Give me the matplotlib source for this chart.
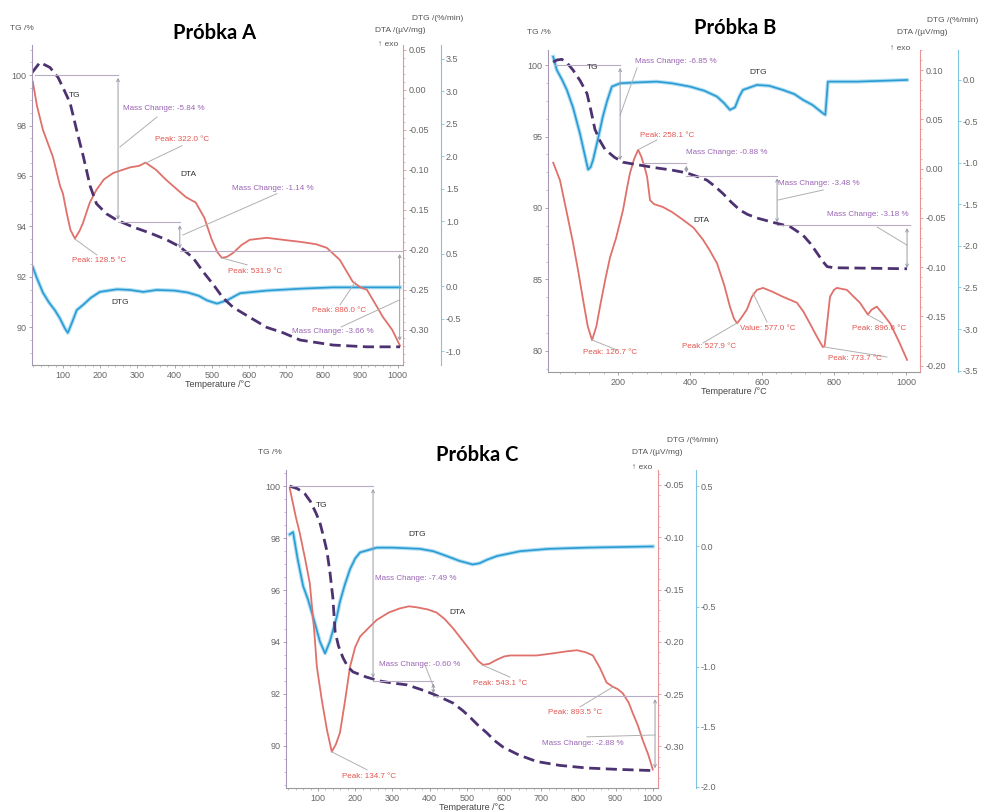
import matplotlib.pyplot as plt
from matplotlib.ticker import FormatStrFormatter, AutoMinorLocator

plt.rcParams['font.family'] = ['Liberation Sans', 'DejaVu Sans']
plt.rcParams['axes.unicode_minus'] = False

# ---------------- Próbka A ----------------
a_t_tg = [17, 38, 65, 87, 100, 119, 137, 155, 173, 190, 217, 245, 288, 334, 379, 414,
          450, 477, 505, 530, 557, 602, 648, 693, 737, 826, 917, 1006]
a_tg = [100.1, 100.5, 100.3, 99.9, 99.5, 98.9, 97.8, 96.75, 95.6, 94.9, 94.5, 94.25, 93.98,
        93.74, 93.47, 93.2, 92.75, 92.2, 91.68, 91.17, 90.8, 90.4, 90.0, 89.78, 89.5, 89.3,
        89.23, 89.23]
a_t_dta = [19, 30, 46, 73, 92, 100, 110, 120, 132, 145, 154, 172, 190, 210, 235, 280, 305,
           322, 350, 377, 430, 457, 480, 500, 515, 527, 540, 557, 580, 602, 648, 700, 737,
           780, 809, 844, 879, 900, 917, 940, 960, 985, 1006]
a_dta = [0.01, -0.02, -0.05, -0.084, -0.12, -0.13, -0.154, -0.175, -0.186, -0.176, -0.166,
         -0.141, -0.125, -0.112, -0.104, -0.097, -0.095, -0.091, -0.1, -0.1125, -0.134,
         -0.141, -0.16, -0.1875, -0.203, -0.21, -0.209, -0.204, -0.194, -0.1875, -0.185,
         -0.188, -0.19, -0.193, -0.1975, -0.2125, -0.24, -0.247, -0.25, -0.268, -0.284,
         -0.30, -0.32]
a_t_dtg = [19, 30, 46, 62, 78, 92, 105, 113, 125, 137, 154, 175, 199, 245, 280, 316, 352,
           400, 436, 465, 487, 514, 541, 576, 648, 740, 826, 1006]
a_dtg = [0.29, 0.12, -0.1, -0.25, -0.37, -0.5, -0.65, -0.72, -0.55, -0.37, -0.29, -0.18,
         -0.09, -0.05, -0.06, -0.09, -0.06, -0.07, -0.1, -0.15, -0.22, -0.27, -0.22, -0.11,
         -0.07, -0.04, -0.02, -0.02]
a_mass_change = [-5.84, -1.14, -3.66]
a_peaks = [128.5, 322.0, 531.9, 886.0]

# ---------------- Próbka B ----------------
b_t_tg = [20, 30, 44, 60, 75, 95, 114, 125, 136, 150, 164, 190, 214, 260, 308, 350, 392,
          420, 447, 470, 492, 515, 539, 560, 586, 630, 678, 714, 735, 753, 768, 781, 800,
          864, 1003]
b_tg = [100.2, 100.35, 100.4, 100.1, 99.65, 98.9, 98.0, 96.8, 95.5, 94.7, 94.1, 93.55,
        93.2, 93.0, 92.8, 92.65, 92.45, 92.2, 91.95, 91.5, 91.0, 90.4, 89.85, 89.55, 89.3,
        89.0, 88.7, 88.1, 87.5, 86.85, 86.3, 85.9, 85.82, 85.8, 85.75]
b_t_dta = [20, 39, 58, 75, 90, 103, 116, 128, 140, 150, 165, 178, 195, 214, 225, 233, 245,
           256, 265, 275, 281, 289, 300, 325, 350, 381, 410, 436, 455, 475, 495, 511, 522,
           531, 545, 558, 572, 586, 603, 630, 658, 697, 715, 733, 752, 769, 774, 780, 789,
           800, 808, 836, 855, 872, 894, 905, 919, 935, 956, 980, 1003]
b_dta = [0.006, -0.012, -0.045, -0.075, -0.105, -0.133, -0.16, -0.174, -0.16, -0.14,
         -0.112, -0.09, -0.07, -0.042, -0.02, -0.005, 0.01, 0.019, 0.012, 0.0, -0.0085,
         -0.032, -0.036, -0.039, -0.044, -0.052, -0.06, -0.072, -0.083, -0.096, -0.118,
         -0.14, -0.152, -0.157, -0.15, -0.143, -0.13, -0.123, -0.121, -0.125, -0.13,
         -0.136, -0.145, -0.157, -0.17, -0.181, -0.18, -0.16, -0.13, -0.123, -0.121,
         -0.123, -0.13, -0.136, -0.148, -0.143, -0.14, -0.147, -0.157, -0.175, -0.194]
b_t_dtg = [20, 30, 45, 58, 75, 94, 105, 117, 124, 131, 145, 158, 170, 183, 206, 250, 308,
           350, 400, 440, 475, 495, 511, 525, 537, 547, 586, 620, 658, 690, 714, 740, 769,
           776, 780, 783, 864, 1003]
b_dtg = [0.28, 0.12, 0.0, -0.12, -0.33, -0.64, -0.85, -1.08, -1.05, -0.96, -0.7, -0.44,
         -0.25, -0.08, -0.04, -0.03, -0.02, -0.04, -0.08, -0.13, -0.2, -0.28, -0.36, -0.33,
         -0.2, -0.12, -0.06, -0.07, -0.12, -0.17, -0.24, -0.3, -0.4, -0.42, -0.2, -0.02,
         -0.02, 0.0]
b_mass_change = [-6.85, -0.88, -3.48, -3.18]
b_peaks = [126.7, 258.1, 527.9, 773.7, 896.6]
b_value = 577.0

# ---------------- Próbka C ----------------
c_t_tg = [24, 45, 65, 80, 95, 105, 115, 124, 132, 140, 146, 155, 167, 180, 194, 230, 266,
          300, 339, 375, 409, 440, 463, 490, 509, 530, 554, 575, 598, 640, 688, 750, 823,
          900, 1000]
c_tg = [100.0, 99.9, 99.7, 99.4, 98.95, 98.6, 98.05, 97.5, 96.7, 95.7, 94.4, 93.85, 93.4,
        93.05, 92.85, 92.65, 92.5, 92.42, 92.35, 92.18, 92.0, 91.8, 91.65, 91.35, 91.1,
        90.8, 90.5, 90.2, 89.95, 89.65, 89.4, 89.25, 89.15, 89.1, 89.05]
c_t_dta = [24, 40, 51, 65, 78, 90, 97, 110, 124, 137, 148, 159, 172, 186, 200, 213, 235,
           258, 290, 320, 345, 366, 395, 419, 440, 463, 485, 509, 530, 544, 560, 581, 600,
           616, 650, 688, 731, 770, 796, 820, 839, 858, 876, 893, 905, 919, 935, 946, 960,
           973, 988, 1000]
c_dta = [-0.053, -0.08, -0.096, -0.12, -0.144, -0.19, -0.224, -0.255, -0.284, -0.305,
         -0.298, -0.287, -0.258, -0.224, -0.205, -0.195, -0.187, -0.179, -0.172, -0.168,
         -0.166, -0.167, -0.169, -0.172, -0.178, -0.187, -0.197, -0.208, -0.218, -0.222,
         -0.221, -0.217, -0.214, -0.213, -0.213, -0.213, -0.211, -0.209, -0.208, -0.21,
         -0.213, -0.225, -0.239, -0.243, -0.245, -0.249, -0.258, -0.268, -0.28, -0.294,
         -0.308, -0.322]
c_t_dtg = [24, 33, 45, 60, 73, 90, 105, 119, 132, 151, 159, 172, 186, 200, 213, 258, 300,
           374, 410, 446, 480, 516, 534, 555, 581, 643, 720, 823, 1000]
c_dtg = [0.1, 0.12, -0.1, -0.33, -0.44, -0.62, -0.79, -0.89, -0.79, -0.58, -0.46, -0.32,
         -0.19, -0.1, -0.05, -0.01, -0.01, -0.02, -0.04, -0.08, -0.12, -0.15, -0.14, -0.11,
         -0.08, -0.04, -0.02, -0.01, 0.0]
c_mass_change = [-7.49, -0.60, -2.88]
c_peaks = [134.7, 543.1, 893.5]

# ---------------- styles ----------------
TG_C = '#4d3272'
DTA_C = '#e0706a'
DTG_C = '#2b9bd3'
MC_C = '#9a64b4'
PK_C = '#e2554f'
GUIDE_C = '#b8acc4'
LEAD_C = '#b0b0b0'
TICK_C = '#666666'

W, H = 984, 811
fig = plt.figure(figsize=(W / 100, H / 100), dpi=100)


def fx(x):
    return x / W


def fy(y):
    return 1 - y / H


def panel(box, xlim, tglim, dtalim, dtglim, xstep, tgstep, dtastep, dtgstep):
    x0, y0, x1, y1 = box
    ax = fig.add_axes([fx(x0), fy(y1), (x1 - x0) / W, (y1 - y0) / H])
    dta = ax.twinx()
    dtg = ax.twinx()
    ax.set_zorder(3)
    dta.set_zorder(2)
    dtg.set_zorder(1)
    ax.patch.set_visible(False)
    for a in (ax, dta, dtg):
        for s in a.spines.values():
            s.set_visible(False)
    ax.spines['left'].set_visible(True)
    ax.spines['left'].set_color('#a898b8')
    ax.spines['bottom'].set_visible(True)
    ax.spines['bottom'].set_color('#9a9a9a')
    dta.spines['right'].set_visible(True)
    dta.spines['right'].set_color('#e89494')
    dtg.spines['right'].set_visible(True)
    dtg.spines['right'].set_color('#7cc4e0')
    dtg.spines['right'].set_position(('outward', 27))
    ax.set_xlim(*xlim)
    ax.set_ylim(*tglim)
    dta.set_ylim(*dtalim)
    dtg.set_ylim(*dtglim)
    ax.xaxis.set_major_locator(plt.MultipleLocator(xstep))
    ax.yaxis.set_major_locator(plt.MultipleLocator(tgstep))
    dta.yaxis.set_major_locator(plt.MultipleLocator(dtastep))
    dtg.yaxis.set_major_locator(plt.MultipleLocator(dtgstep))
    ax.xaxis.set_minor_locator(AutoMinorLocator(5))
    ax.yaxis.set_minor_locator(AutoMinorLocator(4))
    dta.yaxis.set_minor_locator(AutoMinorLocator(5))
    ax.yaxis.set_major_formatter(FormatStrFormatter('%d'))
    dta.yaxis.set_major_formatter(FormatStrFormatter('%.2f'))
    dtg.yaxis.set_major_formatter(FormatStrFormatter('%.1f'))
    for a in (ax, dta, dtg):
        a.tick_params(which='major', labelsize=6.5, labelcolor=TICK_C, color='#999999',
                      length=2.5, width=0.6, pad=1.5)
        a.tick_params(which='minor', length=1.5, width=0.5, color='#aaaaaa')
    dta.tick_params(which='both', colors='#e89494', labelcolor=TICK_C)
    dtg.tick_params(which='both', colors='#7cc4e0', labelcolor=TICK_C)
    ax.set_xlabel('Temperature /°C', fontsize=6.5, color='#444444', labelpad=0.5)
    return ax, dta, dtg


def curves(ax, dta, dtg, t_tg, tg, t_dta, v_dta, t_dtg, v_dtg):
    # DTG drawn as a soft wide band + core line (the original signal is noisy)
    dtg.plot(t_dtg, v_dtg, color='#6cc2ea', lw=2.8, alpha=0.55, solid_joinstyle='round')
    dtg.plot(t_dtg, v_dtg, color=DTG_C, lw=1.2)
    dta.plot(t_dta, v_dta, color=DTA_C, lw=1.3)
    ax.plot(t_tg, tg, color=TG_C, lw=2.0, ls=(0, (4, 2)))


def steps(ax, changes, arrow_t, spans):
    levels = [100.0]
    for c in changes:
        levels.append(levels[-1] + c)
    for (s, e), lev in zip(spans, levels):
        ax.plot([s, e], [lev, lev], color=GUIDE_C, lw=0.8)
    for t, top, bot in zip(arrow_t, levels[:-1], levels[1:]):
        ax.annotate('', xy=(t, bot), xytext=(t, top),
                    arrowprops=dict(arrowstyle='<->', color='#9a9aa8', lw=0.7,
                                    mutation_scale=5, shrinkA=2, shrinkB=2))


def texts(ax, items, color):
    for s, x, y in items:
        ax.text(x, y, s, color=color, fontsize=5.8, ha='left', va='center')


def leaders(ax, segs):
    for (xa, ya), (xb, yb) in segs:
        ax.plot([xa, xb], [ya, yb], color=LEAD_C, lw=0.7)


def labels(ax, items):
    for s, x, y in items:
        ax.text(x, y, s, color='#333333', fontsize=6, ha='center', va='center')


def headers(title, tpos, tg_pos, dta_pos, dtg_pos, exo_pos):
    fig.text(fx(tpos[0]), fy(tpos[1]), title, fontsize=14.5, fontweight='bold',
             family=['Lato', 'DejaVu Sans'], ha='center', va='center')
    fig.text(fx(tg_pos[0]), fy(tg_pos[1]), 'TG /%', fontsize=6, color='#555555', va='center')
    fig.text(fx(dta_pos[0]), fy(dta_pos[1]), 'DTA /(µV/mg)', fontsize=6, color='#555555',
             va='center')
    fig.text(fx(dtg_pos[0]), fy(dtg_pos[1]), 'DTG /(%/min)', fontsize=6, color='#555555',
             va='center')
    fig.text(fx(exo_pos[0]), fy(exo_pos[1]), '↑ exo', fontsize=6, color='#555555',
             va='center')


# ---- panel A ----
ax, dta, dtg = panel((32, 45, 403, 365), (16.7, 1014), (88.51, 101.19), (-0.344, 0.056),
                     (-1.215, 3.71), 100, 2, 0.05, 0.5)
curves(ax, dta, dtg, a_t_tg, a_tg, a_t_dta, a_dta, a_t_dtg, a_dtg)
steps(ax, a_mass_change, [248, 414, 1005], [(25, 248), (248, 414), (414, 1014)])
leaders(ax, [((253, 97.15), (353, 98.34)), ((322, 96.51), (420, 97.2)),
             ((422, 93.66), (675, 95.3)), ((132, 93.5), (191, 92.87)),
             ((527, 92.75), (595, 92.48)), ((886, 91.8), (845, 90.9)),
             ((1005, 91.09), (848, 90.02))])
texts(ax, [('Mass Change: %.2f %%' % m, x, y) for m, (x, y) in
           zip(a_mass_change, [(261, 98.69), (554, 95.52), (716, 89.82)])], MC_C)
texts(ax, [('Peak: %.1f °C' % p, x, y) for p, (x, y) in
           zip(a_peaks, [(124, 92.67), (347, 97.43), (544, 92.2), (769, 90.65)])], PK_C)
labels(ax, [('TG', 132, 99.2), ('DTA', 436, 96.04), ('DTG', 253, 90.97)])
headers('Próbka A', (215, 33), (10, 28), (375, 30), (412, 18), (378, 44))

# ---- panel B ----
ax, dta, dtg = panel((548, 50, 920, 372), (5.6, 1039), (78.53, 101.05), (-0.2063, 0.1203),
                     (-3.518, 0.361), 200, 5, 0.05, 0.5)
curves(ax, dta, dtg, b_t_tg, b_tg, b_t_dta, b_dta, b_t_dtg, b_dtg)
steps(ax, b_mass_change, [206, 390, 642, 1003],
      [(25, 206), (270, 390), (390, 642), (642, 1012)])
leaders(ax, [((206, 96.5), (253, 99.8)), ((258, 94.1), (308, 94.76)),
             ((645, 90.56), (770, 91.26)), ((1003, 87.4), (920, 88.67)),
             ((128, 80.77), (197, 80.07)), ((531, 81.96), (436, 80.56)),
             ((575, 84.06), (614, 82.03)), ((773, 80.28), (947, 79.58)),
             ((896, 82.5), (936, 81.95))])
texts(ax, [('Mass Change: %.2f %%' % m, x, y) for m, (x, y) in
           zip(b_mass_change, [(247, 100.28), (389, 93.85), (645, 91.68), (781, 89.58)])], MC_C)
texts(ax, [('Peak: %.1f °C' % p, x, y) for p, (x, y) in
           zip(b_peaks, [(103, 79.86), (261, 95.1), (378, 80.28), (783, 79.44), (850, 81.6)])],
      PK_C)
texts(ax, [('Value: %.1f °C' % b_value, 539, 81.6)], PK_C)
labels(ax, [('TG', 131, 99.8), ('DTG', 589, 99.5), ('DTA', 433, 89.1)])
headers('Próbka B', (735, 28), (527, 33), (897, 33), (927, 20), (890, 49))

# ---- panel C ----
ax, dta, dtg = panel((286, 470, 658, 788), (14, 1014), (88.38, 100.62), (-0.3397, -0.0357),
                     (-2.01, 0.636), 100, 2, 0.05, 0.5)
curves(ax, dta, dtg, c_t_tg, c_tg, c_t_dta, c_dta, c_t_dtg, c_dtg)
steps(ax, c_mass_change, [248, 410, 1006], [(24, 248), (248, 410), (410, 1014)])
leaders(ax, [((388, 93.1), (410, 92.3)), ((544, 93.1), (616, 92.65)),
             ((893, 92.27), (804, 91.5)), ((1006, 90.42), (823, 90.35)),
             ((137, 89.77), (232, 89.08))])
texts(ax, [('Mass Change: %.2f %%' % m, x, y) for m, (x, y) in
           zip(c_mass_change, [(253, 96.46), (264, 93.15), (702, 90.08)])], MC_C)
texts(ax, [('Peak: %.1f °C' % p, x, y) for p, (x, y) in
           zip(c_peaks, [(165, 88.81), (517, 92.42), (718, 91.27)])], PK_C)
labels(ax, [('TG', 111, 99.27), ('DTG', 366, 98.12), ('DTA', 474, 95.12)])
headers('Próbka C', (477, 455), (258, 452), (632, 453), (667, 440), (632, 468))

fig.savefig('out.png', dpi=100)
